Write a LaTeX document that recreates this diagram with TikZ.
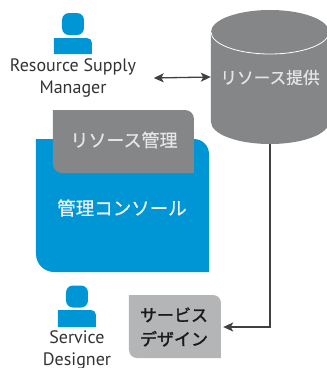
\documentclass[tikz,border=0pt]{standalone}
\usepackage{fontspec}
\setmainfont{PT Sans}
\newfontfamily\cjk[FakeBold=0.6]{Noto Sans CJK JP}
\newfontfamily\cjkstrong[FakeBold=1.5]{Noto Sans CJK JP}
\usepackage{tikz}
\usetikzlibrary{arrows,arrows.meta,%
                shapes,positioning}
\definecolor{hpblue}{HTML}{0096D6}
\definecolor{darkbox}{HTML}{858687}
\definecolor{lightbox}{HTML}{B4B5B6}
\tikzset{
  head/.style={fill=hpblue,rounded corners=7pt,minimum width=22pt,minimum height=22pt,inner sep=0pt},
  role/.style={align=center,text=black!80,font=\fontsize{18}{22}\selectfont,inner ysep=0pt},
  jplabel/.style={font=\cjk\fontsize{18}{24}\selectfont,align=center,inner sep=0pt},
  flow/.style={draw=black!75,line width=1.3pt,>={Stealth[length=10pt,width=9pt,inset=2.5pt]}}
}
\begin{document}
\begin{tikzpicture}[x=1pt,y=-1pt]
\useasboundingbox (0,0) rectangle (327,368);
\fill[hpblue] (36,139) [rounded corners=15pt] -- (209,139) [sharp corners] -- (209,272) [rounded corners=18pt] -- (36,272) [sharp corners] -- cycle;
\fill[darkbox] (53,110) [rounded corners=9pt] -- (194,110) [sharp corners] -- (194,173) [rounded corners=9pt] -- (53,173) [sharp corners] -- cycle;
\fill[lightbox] (129,295) [rounded corners=8pt] -- (221,295) [sharp corners] -- (221,358) [rounded corners=8pt] -- (129,358) [sharp corners] -- cycle;
\fill[darkbox] (211,32) -- (211,122) arc[start angle=180,end angle=0,x radius=59,y radius=22] -- (329,32) arc[start angle=0,end angle=-180,x radius=59,y radius=22];
\draw[white,line width=0.8pt] (211,32) arc[start angle=180,end angle=0,x radius=59,y radius=22];
\node[head] (rsmhead) at (73,24) {};
\fill[hpblue] (54,54) -- (54,38) [rounded corners=5pt] -- (92,38) [sharp corners] -- (92,54) -- cycle;
\node[head] (sdhead) at (77,296.5) {};
\fill[hpblue] (58,327) -- (58,310) [rounded corners=5pt] -- (96,310) [sharp corners] -- (96,327) -- cycle;
\node[role,inner xsep=17.5pt] (rsm) at (73,78) {Resource Supply\\Manager};
\node[role] (sd) at (77,350) {Service\\Designer};
\node[jplabel,text=white!90!black] (mgmt) at (124,140) {リソース管理};
\node[jplabel,text=white!95!black,font=\cjk\fontsize{18.5}{24}\selectfont] (console) at (122,208) {管理コンソール};
\node[jplabel,text=white!90!black,font=\cjk\fontsize{16.7}{24}\selectfont,minimum width=118pt,minimum height=134pt] (store) at (270,77) {\raisebox{-15pt}{リソース提供}};
\node[jplabel,text=black!90,font=\cjkstrong\fontsize{17}{24}\selectfont,minimum width=98pt] (design) at (174,327) {サービス\\デザイン};
\draw[flow,<->] (rsm.east) -- (store.west);
\draw[flow,->] (store.south) |- (design.east);
\end{tikzpicture}
\end{document}
